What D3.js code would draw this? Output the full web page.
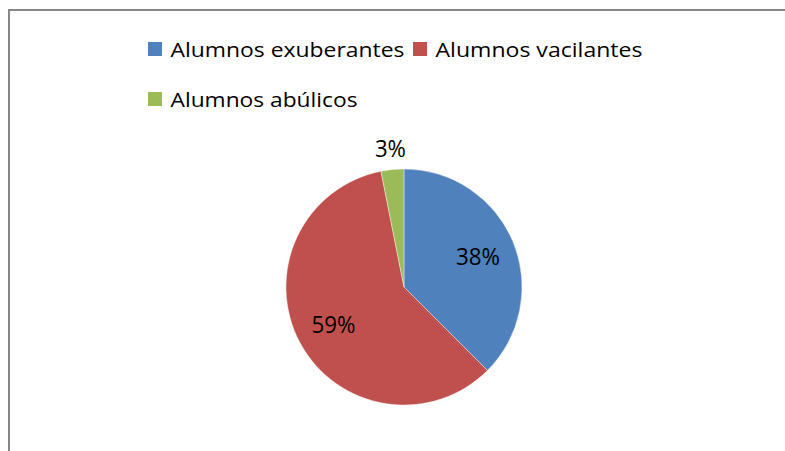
<!DOCTYPE html>
<html lang="es">
<head>
    <meta charset="UTF-8">
    <title>Alumnos</title>
    <script src="https://d3js.org/d3.v7.min.js"></script>
    <style>
        body {
            margin: 0;
            padding: 0;
            background-color: #fff;
            overflow: hidden;
        }
        text {
            font-family: "Open Sans", sans-serif;
            fill: #000;
        }
    </style>
</head>
<body>
    <div id="chart"></div>

    <script>
        // Data (counts giving 38% / 59% / 3%)
        const categories = ["Alumnos exuberantes", "Alumnos vacilantes", "Alumnos abúlicos"];
        const values = [12, 19, 1];
        const colors = ["#4F81BD", "#C0504D", "#9BBB59"];

        const width = 785;
        const height = 451;

        const svg = d3.select("#chart").append("svg")
            .attr("width", width)
            .attr("height", height);

        // Chart frame (only left and top edges are inside the picture)
        svg.append("rect")
            .attr("x", 9)
            .attr("y", 10)
            .attr("width", width + 20)
            .attr("height", height + 20)
            .attr("fill", "none")
            .attr("stroke", "#878787")
            .attr("stroke-width", 2);

        // Legend
        const legendItems = [
            { x: 148, y: 42, textLen: 234 },
            { x: 413, y: 42, textLen: 207 },
            { x: 148, y: 92, textLen: 187 }
        ];

        const legend = svg.append("g")
            .selectAll("g")
            .data(categories)
            .enter().append("g")
            .attr("transform", (d, i) => `translate(${legendItems[i].x},${legendItems[i].y})`);

        legend.append("rect")
            .attr("width", 14)
            .attr("height", 14)
            .attr("fill", (d, i) => colors[i]);

        legend.append("text")
            .attr("x", 22.5)
            .attr("y", 14.5)
            .attr("font-size", 20)
            .attr("textLength", (d, i) => legendItems[i].textLen)
            .attr("lengthAdjust", "spacingAndGlyphs")
            .text(d => d);

        // Pie
        const cx = 404, cy = 287, radius = 118;
        const total = d3.sum(values);

        const pie = d3.pie().sort(null);
        const arcs = pie(values);

        const arc = d3.arc().innerRadius(0).outerRadius(radius);
        const insideArc = d3.arc().innerRadius(80).outerRadius(80);
        const outsideArc = d3.arc().innerRadius(139).outerRadius(139);

        const g = svg.append("g").attr("transform", `translate(${cx},${cy})`);

        g.selectAll("path")
            .data(arcs)
            .enter().append("path")
            .attr("d", arc)
            .attr("fill", (d, i) => colors[i])
            .attr("stroke", "#fff")
            .attr("stroke-width", 0.4);

        // Percentage labels, small slices go outside
        const labelWidths = [44, 44, 31];
        g.selectAll(".label")
            .data(arcs)
            .enter().append("text")
            .attr("class", "label")
            .attr("text-anchor", "middle")
            .attr("font-size", 24)
            .attr("textLength", (d, i) => labelWidths[i])
            .attr("lengthAdjust", "spacingAndGlyphs")
            .attr("transform", d => {
                const small = d.value / total < 0.1;
                const c = (small ? outsideArc : insideArc).centroid(d);
                return `translate(${c[0]},${c[1] + 8.5})`;
            })
            .text(d => Math.round(d.value / total * 100) + "%");
    </script>
</body>
</html>
